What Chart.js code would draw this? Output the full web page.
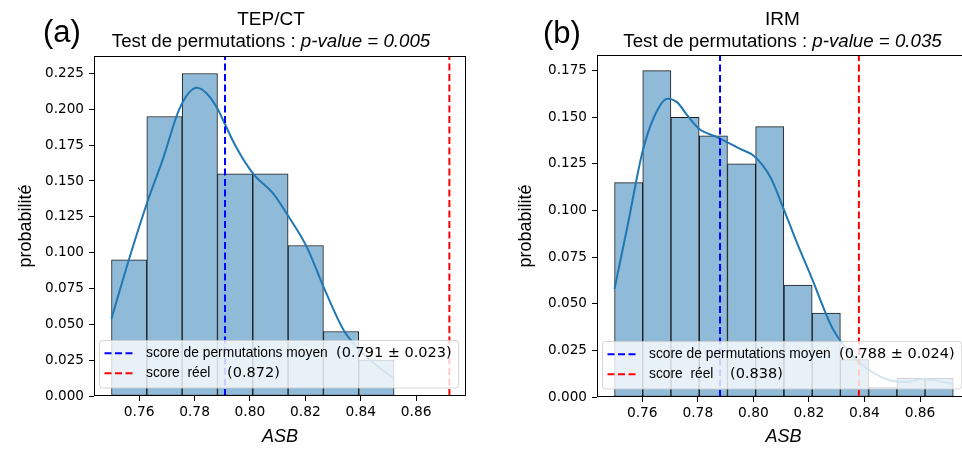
<!DOCTYPE html>
<html>
<head>
<meta charset="utf-8">
<script src="https://cdn.jsdelivr.net/npm/chart.js@4.4.1/dist/chart.umd.min.js"></script>
<style>
  html, body { margin: 0; padding: 0; background: #fff; overflow: hidden; width: 962px; height: 450px; }
  .panel { position: absolute; top: 0; }
  #panelA { left: 0; }
  #panelB { left: 500px; }
</style>
</head>
<body>
<div class="panel" id="panelA"><canvas id="chartA" width="481" height="450"></canvas></div>
<div class="panel" id="panelB"><canvas id="chartB" width="485" height="450"></canvas></div>
<script>
// axis ticks
const X_TICKS = [0.76, 0.78, 0.80, 0.82, 0.84, 0.86];
const Y_TICKS_A = [0, 0.025, 0.05, 0.075, 0.1, 0.125, 0.15, 0.175, 0.2, 0.225];
const Y_TICKS_B = [0, 0.025, 0.05, 0.075, 0.1, 0.125, 0.15, 0.175];

// (a) TEP/CT histogram
const EDGES_A = [0.750, 0.7628, 0.7755, 0.7883, 0.8010, 0.8138, 0.8265, 0.8393, 0.8520];
const PROB_A = [0.095, 0.195, 0.225, 0.155, 0.155, 0.105, 0.045, 0.025];
const KDE_A_X = [0.750, 0.7566, 0.7629, 0.7687, 0.7747, 0.7808, 0.7844, 0.7884, 0.7904, 0.7952, 0.8012, 0.8085, 0.8140, 0.8205, 0.8266, 0.8338, 0.8386, 0.8446, 0.8520];
const KDE_A_Y = [0.054, 0.097, 0.135, 0.166, 0.201, 0.215, 0.211, 0.200, 0.192, 0.173, 0.155, 0.141, 0.125, 0.104, 0.076, 0.046, 0.034, 0.023, 0.012];
const MEAN_A = 0.791, STD_A = 0.023, REAL_A = 0.872;

// (b) IRM histogram
const EDGES_B = [0.750, 0.7602, 0.7703, 0.7805, 0.7907, 0.8008, 0.8110, 0.8212, 0.8313, 0.8415, 0.8517, 0.8618, 0.8720];
const PROB_B = [0.115, 0.175, 0.150, 0.140, 0.125, 0.145, 0.060, 0.045, 0.020, 0.005, 0.010, 0.010];
const KDE_B_X = [0.750, 0.7546, 0.7600, 0.7642, 0.7690, 0.7726, 0.7762, 0.7803, 0.7875, 0.7953, 0.8004, 0.8061, 0.8106, 0.8156, 0.8207, 0.8288, 0.8372, 0.8431, 0.8491, 0.8551, 0.8611, 0.8671, 0.8720];
const KDE_B_Y = [0.058, 0.091, 0.131, 0.150, 0.160, 0.158, 0.151, 0.144, 0.139, 0.133, 0.129, 0.118, 0.102, 0.083, 0.065, 0.036, 0.020, 0.013, 0.009, 0.008, 0.0096, 0.0084, 0.007];
const MEAN_B = 0.788, STD_B = 0.024, REAL_B = 0.838;

const X_MIN = 0.7437, X_MAX = 0.878;
const Y_MAX_A = 0.2372, Y_MAX_B = 0.1834;

const TXT = '"Liberation Sans", Arial, sans-serif';
const NUM = '"DejaVu Sans", sans-serif';

function histPoints(edges, probs) {
  return probs.map((p, i) => ({ x: (edges[i] + edges[i + 1]) / 2, y: p }));
}
function curvePoints(xs, ys) {
  return xs.map((x, i) => ({ x: x, y: ys[i] }));
}
function vline(x) {
  return [{ x: x, y: 0 }, { x: x, y: 1 }];
}

// frame, legend box, titles
const decor = {
  id: 'decor',
  afterDatasetsDraw(chart, args, o) {
    const ctx = chart.ctx, ca = chart.chartArea;
    ctx.save();
    ctx.strokeStyle = '#000';
    ctx.lineWidth = 1;
    ctx.strokeRect(Math.round(ca.left) + 0.5, Math.round(ca.top) + 0.5,
                   Math.round(ca.right - ca.left) - 1, Math.round(ca.bottom - ca.top) - 1);

    // legend (lower left)
    const bx = ca.left + 5.5, by = ca.bottom - 55.5, bh = 47.5;
    const tx = bx + 46.5;
    ctx.font = '14.5px ' + NUM;
    const n1 = '(' + o.mean.toFixed(3) + ' \u00b1 ' + o.std.toFixed(3) + ')';
    const n2 = '(' + o.real.toFixed(3) + ')';
    const bw = (tx + 190 + ctx.measureText(n1).width + 7) - bx;
    ctx.beginPath();
    ctx.roundRect(bx, by, bw, bh, 3);
    ctx.fillStyle = 'rgba(255,255,255,0.8)';
    ctx.fill();
    ctx.strokeStyle = 'rgba(204,204,204,0.8)';
    ctx.stroke();

    const rows = [
      { y: by + 12.8, color: '#0000ff', label: 'score de permutations moyen', num: n1, off: 190 },
      { y: by + 32.8, color: '#ff0000', label: 'score  r\u00e9el', num: n2, off: 81 }
    ];
    rows.forEach(r => {
      ctx.beginPath();
      ctx.setLineDash([7, 3.5]);
      ctx.lineWidth = 2;
      ctx.strokeStyle = r.color;
      ctx.moveTo(bx + 5, r.y);
      ctx.lineTo(bx + 36.5, r.y);
      ctx.stroke();
      ctx.setLineDash([]);
      ctx.fillStyle = '#000';
      ctx.textBaseline = 'middle';
      ctx.textAlign = 'left';
      ctx.font = '13.8px ' + TXT;
      ctx.fillText(r.label, tx, r.y);
      ctx.font = '14.5px ' + NUM;
      ctx.fillText(r.num, tx + r.off, r.y);
    });
    ctx.restore();
  },
  afterDraw(chart, args, o) {
    const ctx = chart.ctx;
    ctx.save();
    ctx.fillStyle = '#000';
    ctx.textBaseline = 'alphabetic';
    ctx.textAlign = 'left';
    ctx.font = '31px ' + TXT;
    ctx.fillText(o.letter, 43, o.letterY);

    ctx.textAlign = 'center';
    ctx.font = '19px ' + TXT;
    ctx.fillText(o.title, o.center, 25);

    const a = 'Test de permutations : ';
    const b = 'p-value = ' + o.pval;
    ctx.textAlign = 'left';
    ctx.font = '18.7px ' + TXT;
    const wa = ctx.measureText(a).width;
    ctx.font = 'italic 18.7px ' + TXT;
    const wb = ctx.measureText(b).width;
    const x0 = o.center - (wa + wb) / 2;
    ctx.font = '18.7px ' + TXT;
    ctx.fillText(a, x0, 47);
    ctx.font = 'italic 18.7px ' + TXT;
    ctx.fillText(b, x0 + wa, 47);
    ctx.restore();
  }
};

function buildScales(yMax, yTicks, yWidth, xHeight) {
  return {
    x: {
      type: 'linear', min: X_MIN, max: X_MAX, offset: false,
      afterBuildTicks: s => { s.ticks = X_TICKS.map(v => ({ value: v })); },
      afterFit: s => { s.height = xHeight; },
      grid: { display: true, offset: false, drawOnChartArea: false, drawTicks: true, tickLength: 5, tickColor: '#000' },
      border: { display: false },
      ticks: { font: { family: NUM, size: 13.8 }, color: '#000', padding: 3, maxRotation: 0, autoSkip: false,
               callback: v => v.toFixed(2) },
      title: { display: true, text: 'ASB', color: '#000', font: { family: TXT, size: 18, style: 'italic' },
               padding: { top: 0, bottom: 2 } }
    },
    y: {
      type: 'linear', min: 0, max: yMax,
      afterBuildTicks: s => { s.ticks = yTicks.map(v => ({ value: v })); },
      afterFit: s => { s.width = yWidth; },
      grid: { display: true, drawOnChartArea: false, drawTicks: true, tickLength: 5, tickColor: '#000' },
      border: { display: false },
      ticks: { font: { family: NUM, size: 13.6 }, color: '#000', padding: 5, autoSkip: false,
               callback: v => v.toFixed(3) },
      title: { display: true, text: 'probabilit\u00e9', color: '#000', font: { family: TXT, size: 18 },
               padding: { top: 15, bottom: 0 } }
    }
  };
}

function buildDatasets(edges, probs, kx, ky, mean, real) {
  return [
    { type: 'line', data: vline(mean), borderColor: '#0000ff', borderWidth: 2, borderDash: [7, 3.5],
      pointRadius: 0, order: 0 },
    { type: 'line', data: vline(real), borderColor: '#ff0000', borderWidth: 2, borderDash: [7, 3.5],
      pointRadius: 0, order: 0 },
    { type: 'line', data: curvePoints(kx, ky), borderColor: '#1f77b4', borderWidth: 2,
      pointRadius: 0, cubicInterpolationMode: 'monotone', order: 1 },
    { type: 'bar', data: histPoints(edges, probs), backgroundColor: '#8fbbd9',
      borderColor: '#1a1a1a', borderWidth: 1, borderSkipped: false,
      barPercentage: 1, categoryPercentage: 1, order: 2 }
  ];
}

new Chart(document.getElementById('chartA'), {
  type: 'bar',
  data: { datasets: buildDatasets(EDGES_A, PROB_A, KDE_A_X, KDE_A_Y, MEAN_A, REAL_A) },
  options: {
    responsive: false, animation: false, events: [],
    layout: { padding: { top: 56, right: 15, bottom: 0, left: 0 } },
    scales: buildScales(Y_MAX_A, Y_TICKS_A, 94, 54),
    plugins: {
      legend: { display: false }, tooltip: { enabled: false },
      decor: { letter: '(a)', letterY: 42, title: 'TEP/CT', pval: '0.005', center: 271,
               mean: MEAN_A, std: STD_A, real: REAL_A }
    }
  },
  plugins: [decor]
});

new Chart(document.getElementById('chartB'), {
  type: 'bar',
  data: { datasets: buildDatasets(EDGES_B, PROB_B, KDE_B_X, KDE_B_Y, MEAN_B, REAL_B) },
  options: {
    responsive: false, animation: false, events: [],
    layout: { padding: { top: 55, right: 15, bottom: 0, left: 0 } },
    scales: buildScales(Y_MAX_B, Y_TICKS_B, 97, 53),
    plugins: {
      legend: { display: false }, tooltip: { enabled: false },
      decor: { letter: '(b)', letterY: 43, title: 'IRM', pval: '0.035', center: 282.5,
               mean: MEAN_B, std: STD_B, real: REAL_B }
    }
  },
  plugins: [decor]
});
</script>
</body>
</html>
